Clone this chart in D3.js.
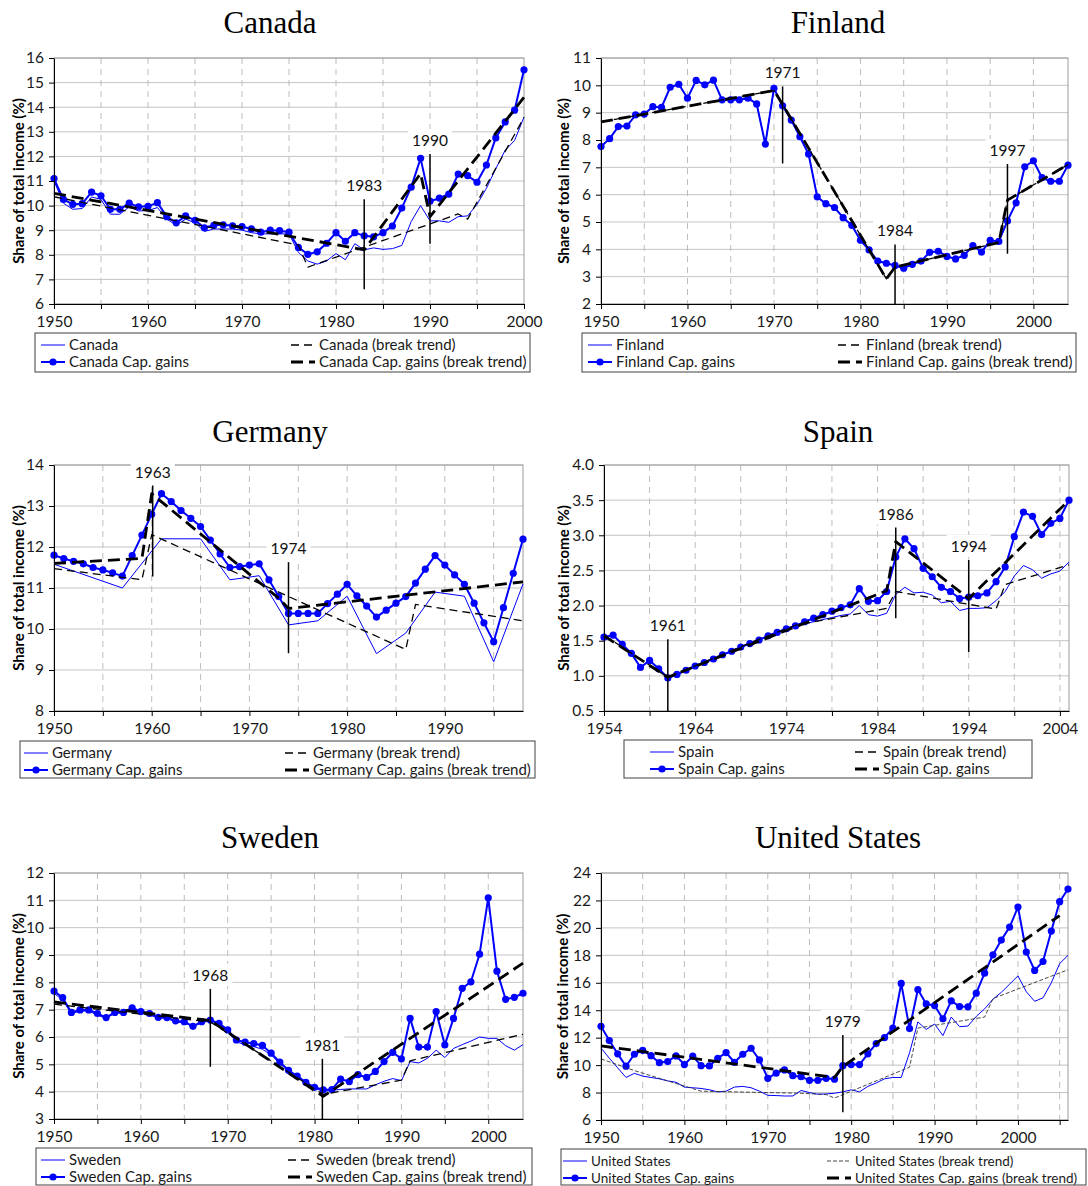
<!DOCTYPE html>
<html>
<head>
<meta charset="utf-8">
<script src="https://cdn.jsdelivr.net/npm/d3@7"></script>
<style>
body { margin: 0; background: #fff; }
svg { display: block; }
</style>
</head>
<body>
<svg id="chart" width="1088" height="1186"></svg>
<script>
// ---- data ----
// yearly series are listed from their first year on

const canadaCap = [11.1, 10.25, 10.05, 10.08, 10.55, 10.4, 9.85, 9.85, 10.1, 9.95,
	9.97, 10.12, 9.55, 9.3, 9.58, 9.4, 9.1, 9.2, 9.22, 9.18,
	9.15, 9.05, 8.92, 9.0, 8.98, 8.92, 8.3, 8.02, 8.12, 8.47,
	8.9, 8.55, 8.9, 8.77, 8.73, 8.9, 9.17, 9.9, 10.75, 11.92,
	10.18, 10.3, 10.47, 11.28, 11.22, 10.95, 11.65, 12.75, 13.4, 13.88,
	15.52];
const canadaBase = [11.0, 10.1, 9.85, 9.88, 10.35, 10.25, 9.65, 9.65, 9.95, 9.78,
	9.8, 9.92, 9.45, 9.2, 9.45, 9.3, 8.95, 9.05, 9.05, 9.05,
	9.0, 8.9, 8.85, 8.85, 8.85, 8.85, 8.1, 7.75, 7.62, 7.75,
	8.05, 7.8, 8.45, 8.2, 8.28, 8.22, 8.25, 8.38, 9.35, 10.0,
	9.38, 9.38, 9.32, 9.55, 9.58, 10.05, 10.7, 11.5, 12.25, 12.65,
	13.6];
const canadaTrend = [[1950, 10.36], [1976, 8.4], [1977, 7.5], [1993, 9.66], [1994, 9.45], [2000, 13.58]];
const canadaCapTrend = [[1950, 10.5], [1983, 8.2], [1989, 11.3], [1990, 9.55], [2000, 14.4]];
const canadaBreaks = [[1983, 6.6, 10.26, "1983"], [1990, 8.45, 12.1, "1990"]];

const finlandCap = [7.76, 8.05, 8.49, 8.51, 8.92, 8.95, 9.22, 9.19, 9.93, 10.04,
	9.53, 10.18, 10.02, 10.19, 9.47, 9.47, 9.47, 9.53, 9.32, 7.85,
	9.89, 9.25, 8.73, 8.12, 7.49, 5.92, 5.67, 5.53, 5.16, 4.88,
	4.33, 3.98, 3.57, 3.49, 3.41, 3.31, 3.45, 3.57, 3.89, 3.93,
	3.74, 3.65, 3.78, 4.14, 3.90, 4.33, 4.29, 5.04, 5.70, 7.02,
	7.24, 6.62, 6.49, 6.49, 7.08];
// the plain Finland series lies under the capital gains one in the figure
const finlandBase = finlandCap;
const finlandCapTrend = [[1950, 8.66], [1970, 9.81], [1971, 9.3], [1983, 2.92], [1984, 3.35],
	[1996, 4.25], [1997, 5.8], [2004, 7.1]];
const finlandTrend = finlandCapTrend;
const finlandBreaks = [[1971, 7.14, 9.96, "1971"], [1984, 2, 4.18, "1984"], [1997, 3.84, 7.12, "1997"]];

const germanyCap = [11.80, 11.72, 11.65, 11.59, 11.50, 11.44, 11.37, 11.29, 11.79, 12.29,
	12.80, 13.30, 13.11, 12.89, 12.70, 12.50, 12.17, 11.83, 11.50, 11.52,
	11.56, 11.59, 11.20, 10.79, 10.38, 10.38, 10.38, 10.38, 10.62, 10.85,
	11.09, 10.81, 10.56, 10.29, 10.46, 10.63, 10.79, 11.12, 11.46, 11.79,
	11.56, 11.32, 11.09, 10.63, 10.15, 9.69, 10.52, 11.36, 12.19];
const germanyBase = [[1950, 11.58], [1957, 11.0], [1961, 12.2], [1965, 12.2], [1968, 11.2],
	[1971, 11.3], [1974, 10.1], [1977, 10.2], [1980, 10.8], [1983, 9.4], [1986, 9.9],
	[1989, 10.9], [1992, 10.8], [1995, 9.2], [1998, 11.1]];
const germanyTrend = [[1950, 11.47], [1959, 11.2], [1960, 12.3], [1986, 9.5], [1987, 10.6], [1998, 10.2]];
const germanyCapTrend = [[1950, 11.6], [1959, 11.72], [1960, 13.3], [1973, 10.75], [1974, 10.5], [1998, 11.15]];
const germanyBreaks = [[1960.1, 11.28, 13.5, "1963"], [1974, 9.41, 11.63, "1974"]];

const spainCap = [1.55, 1.58, 1.45, 1.32, 1.12, 1.22, 1.10, 0.97, 1.02, 1.08,
	1.14, 1.19, 1.24, 1.30, 1.35, 1.41, 1.46, 1.51, 1.57, 1.62,
	1.67, 1.71, 1.77, 1.82, 1.87, 1.92, 1.97, 2.01, 2.24, 2.06,
	2.07, 2.20, 2.69, 2.95, 2.81, 2.53, 2.41, 2.26, 2.20, 2.10,
	2.12, 2.14, 2.18, 2.34, 2.55, 2.98, 3.33, 3.27, 3.01, 3.17,
	3.24, 3.50];
const spainBase = [1.55, 1.58, 1.45, 1.32, 1.12, 1.22, 1.10, 0.97, 1.02, 1.08,
	1.14, 1.19, 1.24, 1.30, 1.35, 1.41, 1.46, 1.51, 1.57, 1.62,
	1.67, 1.70, 1.74, 1.77, 1.80, 1.83, 1.86, 1.88, 2.00, 1.87,
	1.85, 1.89, 2.16, 2.26, 2.18, 2.19, 2.15, 2.04, 2.06, 1.93,
	1.96, 1.96, 1.97, 2.07, 2.20, 2.42, 2.57, 2.51, 2.39, 2.45,
	2.49, 2.62];
const spainTrend = [[1954, 1.58], [1961, 0.98], [1971, 1.52], [1975, 1.72], [1985, 1.96], [1986, 2.2],
	[1997, 1.95], [1998, 2.3], [2005, 2.58]];
const spainCapTrend = [[1954, 1.57], [1961, 0.98], [1985, 2.21], [1986, 2.91], [1994, 2.1], [2005, 3.5]];
const spainBreaks = [[1961, 0.5, 1.52, "1961"], [1986, 1.82, 3.11, "1986"], [1994, 1.34, 2.65, "1994"]];

const swedenCap = [7.68, 7.44, 6.90, 6.99, 6.99, 6.86, 6.71, 6.90, 6.90, 7.07,
	6.93, 6.86, 6.72, 6.71, 6.59, 6.56, 6.39, 6.56, 6.62, 6.50,
	6.26, 5.89, 5.81, 5.76, 5.69, 5.41, 5.08, 4.78, 4.57, 4.34,
	4.16, 4.07, 4.08, 4.46, 4.37, 4.62, 4.52, 4.74, 5.10, 5.44,
	5.20, 6.68, 5.63, 5.63, 6.93, 5.71, 6.68, 7.78, 8.02, 9.03,
	11.09, 8.41, 7.38, 7.45, 7.60];
const swedenBase = [7.60, 7.35, 6.85, 6.95, 6.95, 6.80, 6.68, 6.88, 6.88, 7.00,
	6.88, 6.80, 6.70, 6.68, 6.55, 6.52, 6.38, 6.52, 6.60, 6.45,
	6.20, 5.82, 5.72, 5.65, 5.55, 5.35, 5.02, 4.75, 4.55, 4.32,
	4.12, 4.02, 4.05, 4.08, 4.10, 4.10, 4.10, 4.25, 4.38, 4.48,
	4.40, 5.10, 5.05, 5.22, 5.52, 5.25, 5.58, 5.72, 5.85, 6.00,
	5.95, 5.95, 5.68, 5.52, 5.72];
const swedenTrend = [[1950, 7.2], [1968, 6.55], [1981, 3.9], [1990, 4.42], [1991, 5.13], [2004, 6.1]];
const swedenCapTrend = [[1950, 7.28], [1968, 6.6], [1981, 3.83], [2004, 8.7]];
const swedenBreaks = [[1968, 4.91, 7.76, "1968"], [1980.9, 3, 5.2, "1981"]];

const usCap = [12.83, 11.79, 10.82, 9.92, 10.79, 11.08, 10.69, 10.18, 10.26, 10.67,
	10.04, 10.65, 9.96, 9.94, 10.50, 10.91, 10.21, 10.79, 11.23, 10.38,
	9.04, 9.41, 9.65, 9.23, 9.16, 8.89, 8.89, 9.04, 8.97, 9.96,
	10.04, 10.04, 10.82, 11.57, 12.01, 12.69, 15.95, 12.66, 15.51, 14.46,
	14.34, 13.37, 14.68, 14.27, 14.25, 15.24, 16.70, 18.04, 19.11, 20.06,
	21.52, 18.24, 16.90, 17.55, 19.77, 21.91, 22.83];
const usBase = [11.25, 10.5, 9.8, 9.1, 9.4, 9.2, 9.1, 9.0, 8.85, 8.75,
	8.4, 8.35, 8.3, 8.2, 8.05, 8.1, 8.4, 8.45, 8.35, 8.1,
	7.8, 7.78, 7.75, 7.75, 8.15, 8.0, 7.88, 7.9, 7.95, 8.05,
	8.2, 8.05, 8.45, 8.7, 9.0, 9.1, 9.1, 10.9, 13.15, 12.6,
	13.0, 12.15, 13.5, 12.8, 12.85, 13.55, 14.1, 14.8, 15.3, 15.9,
	16.5, 15.35, 14.65, 14.9, 16.0, 17.4, 18.0];
const usTrend = [[1950, 10.45], [1954, 9.6], [1958, 8.85], [1962, 8.1], [1966, 8.05], [1970, 8.0],
	[1974, 7.95], [1977, 7.85], [1978, 7.6], [1979, 7.85], [1987, 9.85], [1988, 12.7],
	[1996, 13.5], [1997, 14.85], [2006, 16.95]];
const usCapTrend = [[1950, 11.4], [1978, 9.1], [1979, 9.9], [2005, 20.9]];
const usBreaks = [[1979, 6.56, 12.2, "1979"]];

// axis ticks
const ticksCanada = [6, 7, 8, 9, 10, 11, 12, 13, 14, 15, 16];
const ticksFinland = [2, 3, 4, 5, 6, 7, 8, 9, 10, 11];
const ticksGermany = [8, 9, 10, 11, 12, 13, 14];
const ticksSpain = [0.5, 1.0, 1.5, 2.0, 2.5, 3.0, 3.5, 4.0];
const ticksSweden = [3, 4, 5, 6, 7, 8, 9, 10, 11, 12];
const ticksUS = [6, 8, 10, 12, 14, 16, 18, 20, 22, 24];
const yearLabels = [1950, 1960, 1970, 1980, 1990, 2000];
const yearLabelsSpain = [1954, 1964, 1974, 1984, 1994, 2004];

// legend texts: thin line, dotted line, thin dash, thick dash
const legendCanada = ["Canada", "Canada Cap. gains", "Canada (break trend)", "Canada Cap. gains (break trend)"];
const legendFinland = ["Finland", "Finland Cap. gains", "Finland (break trend)", "Finland Cap. gains (break trend)"];
const legendGermany = ["Germany", "Germany Cap. gains", "Germany (break trend)", "Germany Cap. gains (break trend)"];
const legendSpain = ["Spain", "Spain Cap. gains", "Spain (break trend)", "Spain Cap. gains"];
const legendSweden = ["Sweden", "Sweden Cap. gains", "Sweden (break trend)", "Sweden Cap. gains (break trend)"];
const legendUS = ["United States", "United States Cap. gains", "United States (break trend)", "United States Cap. gains (break trend)"];

// ---- drawing ----

var FONT = "Lato, 'Open Sans', sans-serif";
var BLUE = "#0000ff";
var TICK_SIZE = 15.5;
var svg = d3.select("#chart");

function byYear(first, values) {
	// pair values with their year; sparse series already come as pairs
	if (Array.isArray(values[0])) return values;
	return values.map((v, i) => [first + i, v]);
}

var panels = [
	{title: "Canada", cx: 270, ty: 33, left: 54, right: 524, top: 58, bottom: 304,
	 xDomain: [1950, 2000], yTicks: ticksCanada, xLabels: yearLabels, yTitleX: 19,
	 base: canadaBase, cap: canadaCap, trend: canadaTrend, capTrend: canadaCapTrend,
	 breaks: canadaBreaks, legend: legendCanada,
	 box: [35, 333, 530, 372], cols: [41, 291], legendSize: 15},
	{title: "Finland", cx: 838, ty: 33, left: 601, right: 1068, top: 58, bottom: 304,
	 xDomain: [1950, 2004], yTicks: ticksFinland, xLabels: yearLabels, yTitleX: 564,
	 base: finlandBase, cap: finlandCap, trend: finlandTrend, capTrend: finlandCapTrend,
	 breaks: finlandBreaks, legend: legendFinland,
	 box: [582, 333, 1076, 372], cols: [588, 838], legendSize: 15},
	{title: "Germany", cx: 270, ty: 442, left: 54, right: 523, top: 465, bottom: 711,
	 xDomain: [1950, 1998], yTicks: ticksGermany, xLabels: yearLabels.slice(0, 5), yTitleX: 19,
	 base: germanyBase, cap: germanyCap, trend: germanyTrend, capTrend: germanyCapTrend,
	 breaks: germanyBreaks, legend: legendGermany,
	 box: [20, 741, 535, 778], cols: [24, 285], legendSize: 15},
	{title: "Spain", cx: 838, ty: 442, left: 604, right: 1069, top: 465, bottom: 711,
	 xDomain: [1954, 2005], yTicks: ticksSpain, xLabels: yearLabelsSpain, yTitleX: 564,
	 yFormat: d3.format(".1f"), first: 1954,
	 base: spainBase, cap: spainCap, trend: spainTrend, capTrend: spainCapTrend,
	 breaks: spainBreaks, legend: legendSpain,
	 box: [624, 740, 1032, 778], cols: [650, 855], legendSize: 15},
	{title: "Sweden", cx: 270, ty: 848, left: 54, right: 523, top: 873, bottom: 1119,
	 xDomain: [1950, 2004], yTicks: ticksSweden, xLabels: yearLabels, yTitleX: 19,
	 base: swedenBase, cap: swedenCap, trend: swedenTrend, capTrend: swedenCapTrend,
	 breaks: swedenBreaks, legend: legendSweden,
	 box: [36, 1148, 532, 1185], cols: [41, 288], legendSize: 15},
	{title: "United States", cx: 838, ty: 848, left: 601, right: 1068, top: 873, bottom: 1120,
	 xDomain: [1950, 2006], yTicks: ticksUS, xLabels: yearLabels, yTitleX: 563,
	 base: usBase, cap: usCap, trend: usTrend, capTrend: usCapTrend, thinTrend: true,
	 breaks: usBreaks, legend: legendUS,
	 box: [561, 1149, 1086, 1185], cols: [563, 827], legendSize: 13.5}
];

var styles = {
	base: {stroke: BLUE, width: 1, dash: null},
	cap: {stroke: BLUE, width: 2, dash: null},
	trend: {stroke: "#000", width: 1.3, dash: "8,5"},
	thinTrend: {stroke: "#333", width: 0.9, dash: "4,2"},
	capTrend: {stroke: "#000", width: 2.8, dash: "12,6"}
};

function drawPanel(p) {
	var first = p.first || p.xDomain[0];
	var x = d3.scaleLinear().domain(p.xDomain).range([p.left, p.right]);
	var y = d3.scaleLinear().domain(d3.extent(p.yTicks)).range([p.bottom, p.top]);
	var g = svg.append("g");
	var minor = d3.range(p.xDomain[0], p.xDomain[1] + 0.01, 5);

	g.append("text")
		.attr("x", p.cx).attr("y", p.ty)
		.attr("text-anchor", "middle")
		.attr("font-family", "'Liberation Serif', 'Times New Roman', serif")
		.attr("font-size", 31)
		.text(p.title);

	// grid
	g.append("g").selectAll("line").data(p.yTicks).join("line")
		.attr("x1", p.left).attr("x2", p.right)
		.attr("y1", d => y(d)).attr("y2", d => y(d))
		.attr("stroke", "#c4c4c4");
	g.append("g").selectAll("line")
		.data(minor.filter(d => d > p.xDomain[0] && d < p.xDomain[1])).join("line")
		.attr("x1", d => x(d)).attr("x2", d => x(d))
		.attr("y1", p.top).attr("y2", p.bottom)
		.attr("stroke", "#bdbdbd").attr("stroke-dasharray", "6,5");
	g.append("rect")
		.attr("x", p.left).attr("y", p.top)
		.attr("width", p.right - p.left).attr("height", p.bottom - p.top)
		.attr("fill", "none").attr("stroke", "#9a9a9a");

	var line = d3.line().x(d => x(d[0])).y(d => y(d[1]));
	function path(data, st) {
		g.append("path").datum(data)
			.attr("d", line)
			.attr("fill", "none")
			.attr("stroke", st.stroke)
			.attr("stroke-width", st.width)
			.attr("stroke-dasharray", st.dash)
			.attr("stroke-linejoin", "round");
	}

	var capPts = byYear(first, p.cap);
	path(byYear(first, p.base), styles.base);
	path(capPts, styles.cap);
	g.append("g").selectAll("circle").data(capPts).join("circle")
		.attr("cx", d => x(d[0])).attr("cy", d => y(d[1]))
		.attr("r", 3.6).attr("fill", BLUE);
	path(p.trend, p.thinTrend ? styles.thinTrend : styles.trend);
	path(p.capTrend, styles.capTrend);

	// break years
	p.breaks.forEach(function (b) {
		g.append("line")
			.attr("x1", x(b[0])).attr("x2", x(b[0]))
			.attr("y1", y(b[1])).attr("y2", y(b[2]))
			.attr("stroke", "#000").attr("stroke-width", 1.5);
		var lab = g.append("g");
		var t = lab.append("text")
			.attr("x", x(b[0])).attr("y", y(b[2]) - 8)
			.attr("text-anchor", "middle")
			.attr("font-family", FONT).attr("font-size", TICK_SIZE)
			.attr("fill", "#111")
			.text(b[3]);
		var bb = t.node().getBBox();
		lab.insert("rect", "text")
			.attr("x", bb.x - 4).attr("y", bb.y - 2)
			.attr("width", bb.width + 8).attr("height", bb.height + 4)
			.attr("fill", "#fff");
	});

	// axes
	var yAxis = d3.axisLeft(y).tickValues(p.yTicks)
		.tickSize(5).tickSizeOuter(0).tickPadding(5)
		.tickFormat(p.yFormat || d3.format("d"));
	var xAxis = d3.axisBottom(x).tickValues(minor)
		.tickSize(5).tickSizeOuter(0).tickPadding(7)
		.tickFormat(d => p.xLabels.includes(d) ? d : "");
	[g.append("g").attr("transform", "translate(" + p.left + ",0)").call(yAxis),
	 g.append("g").attr("transform", "translate(0," + p.bottom + ")").call(xAxis)]
		.forEach(function (ax) {
			ax.select(".domain").attr("stroke", "#000");
			ax.selectAll(".tick line").attr("stroke", "#000");
			ax.selectAll("text").attr("font-family", FONT).attr("font-size", TICK_SIZE).attr("fill", "#1a1a1a");
		});

	g.append("text")
		.attr("transform", "translate(" + p.yTitleX + "," + (p.top + p.bottom) / 2 + ") rotate(-90)")
		.attr("text-anchor", "middle")
		.attr("dy", "0.35em")
		.attr("font-family", FONT).attr("font-weight", "bold").attr("font-size", 15)
		.text("Share of total income (%)");

	// legend
	var box = p.box;
	g.append("rect")
		.attr("x", box[0]).attr("y", box[1])
		.attr("width", box[2] - box[0]).attr("height", box[3] - box[1])
		.attr("fill", "#fff").attr("stroke", "#404040");
	var entries = [
		{col: 0, row: 0, st: styles.base},
		{col: 0, row: 1, st: styles.cap, dot: true},
		{col: 1, row: 0, st: p.thinTrend ? styles.thinTrend : styles.trend},
		{col: 1, row: 1, st: styles.capTrend}
	];
	entries.forEach(function (e, i) {
		var lx = p.cols[e.col];
		var ly = box[1] + 12 + e.row * 17;
		g.append("line")
			.attr("x1", lx).attr("x2", lx + 24).attr("y1", ly).attr("y2", ly)
			.attr("stroke", e.st.stroke).attr("stroke-width", e.st.width)
			.attr("stroke-dasharray", e.st.dash);
		if (e.dot) {
			g.append("circle").attr("cx", lx + 12).attr("cy", ly).attr("r", 3.6).attr("fill", BLUE);
		}
		g.append("text")
			.attr("x", lx + 28).attr("y", ly)
			.attr("dy", "0.35em")
			.attr("font-family", FONT).attr("font-size", p.legendSize)
			.attr("fill", "#1a1a1a")
			.text(p.legend[i]);
	});
}

panels.forEach(drawPanel);
</script>
</body>
</html>
